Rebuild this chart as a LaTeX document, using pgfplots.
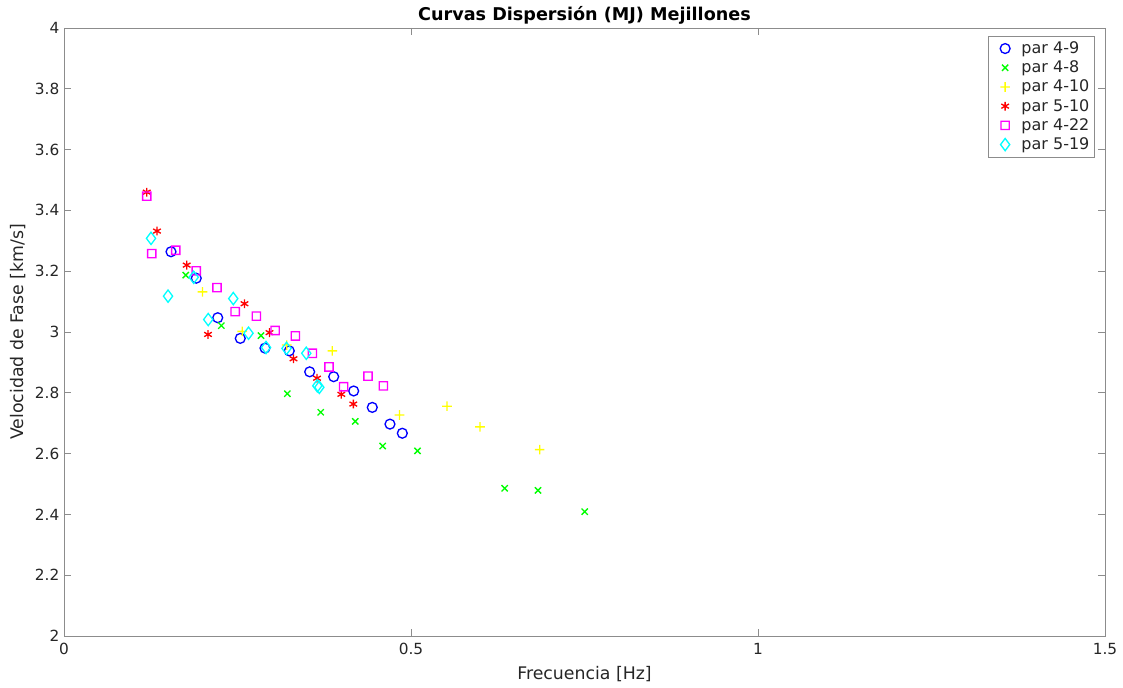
\documentclass[border=0pt]{standalone}
\usepackage{pgfplots}
\pgfplotsset{compat=1.18}
\usepackage{fontspec}
\setmainfont{DejaVu Sans}
\definecolor{axgray}{gray}{0.55}
\definecolor{txgray}{gray}{0.15}
\definecolor{mblue}{rgb}{0,0,1}
\definecolor{mgreen}{rgb}{0,1,0}
\definecolor{myellow}{rgb}{1,1,0}
\definecolor{mred}{rgb}{1,0,0}
\definecolor{mmagenta}{rgb}{1,0,1}
\definecolor{mcyan}{rgb}{0,1,1}

% ring square and plus built from filled areas
\pgfdeclareplotmark{sqring}{%
  \pgfpathrectanglecorners{\pgfpoint{-3.6pt}{-3.6pt}}{\pgfpoint{3.6pt}{3.6pt}}%
  \pgfpathrectanglecorners{\pgfpoint{-2.6pt}{-2.6pt}}{\pgfpoint{2.6pt}{2.6pt}}%
  \pgfseteorule\pgfusepathqfill}
\pgfdeclareplotmark{plusfill}{%
  \pgfpathrectanglecorners{\pgfpoint{-3.6pt}{-0.5pt}}{\pgfpoint{3.6pt}{0.5pt}}%
  \pgfpathrectanglecorners{\pgfpoint{-0.5pt}{-3.6pt}}{\pgfpoint{0.5pt}{3.6pt}}%
  \pgfsetnonzerorule\pgfusepathqfill}

\begin{document}
\begin{tikzpicture}
\path[use as bounding box] (0,0) rectangle (842.25pt,515.25pt);
\begin{axis}[
  at={(48pt,38.25pt)}, anchor=south west,
  scale only axis, width=780.75pt, height=456pt,
  xmin=0, xmax=1.5, ymin=2, ymax=4,
  xtick={0,0.5,1,1.5},
  ytick={2,2.2,2.4,2.6,2.8,3,3.2,3.4,3.6,3.8,4},
  /pgf/number format/assume math mode=true,
  /pgf/number format/fixed,
  /pgf/number format/precision=1,
  tick label style={font=\fontsize{11.5}{13}\selectfont, text=txgray},
  xticklabel style={yshift=-2pt},
  tick align=inside, major tick length=5pt,
  axis line style={axgray, line width=0.6pt},
  every tick/.style={axgray, line width=0.6pt},
  xlabel={Frecuencia [Hz]}, ylabel={Velocidad de Fase [km/s]},
  label style={font=\fontsize{13}{15}\selectfont, text=txgray},
  xlabel style={yshift=-2pt},
  ylabel style={yshift=0pt},
  title={\bfseries Curvas Dispersión (MJ) Mejillones},
  title style={font=\fontsize{13.2}{15}\selectfont, yshift=-7pt},
  legend style={at={(1,1)}, anchor=north east, xshift=-7.5pt, yshift=-6pt,
    draw=axgray, font=\fontsize{12}{14}\selectfont, text=txgray,
    row sep=0pt, inner xsep=2pt, inner ysep=2pt},
  legend cell align=left,
  every axis plot/.append style={only marks, line width=1pt,
    legend image code/.code={
      \path[draw=none] (0cm,0cm) -- (0.74cm,0cm);
      \draw[##1] plot coordinates {(0.38cm,0cm)};}},
]
\addplot[color=mblue, mark=o, mark size=3.7pt] coordinates {
 (0.1542,3.264) (0.1906,3.177) (0.2215,3.047) (0.2540,2.979) (0.2896,2.947)
 (0.3246,2.938) (0.3540,2.869) (0.3886,2.853) (0.4174,2.806) (0.4442,2.752)
 (0.4697,2.697) (0.4875,2.667)};
\addlegendentry{par 4-9}
\addplot[color=mgreen, mark=x, mark size=3.3pt] coordinates {
 (0.1754,3.187) (0.2267,3.021) (0.2839,2.988) (0.3218,2.797) (0.3699,2.736)
 (0.4197,2.706) (0.4592,2.625) (0.5094,2.609) (0.6350,2.486) (0.6830,2.479)
 (0.7503,2.409)};
\addlegendentry{par 4-8}
\addplot[color=myellow, mark=plusfill, mark options={fill=myellow, draw=none}] coordinates {
 (0.1996,3.132) (0.2568,3.002) (0.3209,2.957) (0.3866,2.938) (0.4834,2.727)
 (0.5519,2.756) (0.5994,2.688) (0.6854,2.613)};
\addlegendentry{par 4-10}
\addplot[color=mred, mark=asterisk, mark size=3.3pt] coordinates {
 (0.1192,3.460) (0.1340,3.332) (0.1768,3.220) (0.2075,2.992) (0.2601,3.093)
 (0.2961,2.998) (0.3307,2.912) (0.3646,2.848) (0.3996,2.795) (0.4169,2.763)};
\addlegendentry{par 5-10}
\addplot[color=mmagenta, mark=sqring, mark options={fill=mmagenta, draw=none}] coordinates {
 (0.1192,3.447) (0.1264,3.258) (0.1610,3.269) (0.1906,3.201) (0.2205,3.146)
 (0.2467,3.067) (0.2772,3.052) (0.3043,3.005) (0.3333,2.987) (0.3578,2.930)
 (0.3818,2.885) (0.4030,2.820) (0.4380,2.855) (0.4601,2.823)};
\addlegendentry{par 4-22}
\addplot[color=mcyan, mark=diamond, mark size=4.6pt] coordinates {
 (0.1254,3.308) (0.1499,3.118) (0.1869,3.180) (0.2078,3.041) (0.2439,3.110)
 (0.2659,2.996) (0.2911,2.949) (0.3206,2.946) (0.3491,2.930) (0.3650,2.823)
 (0.3679,2.818)};
\addlegendentry{par 5-19}
\end{axis}
\end{tikzpicture}
\end{document}
